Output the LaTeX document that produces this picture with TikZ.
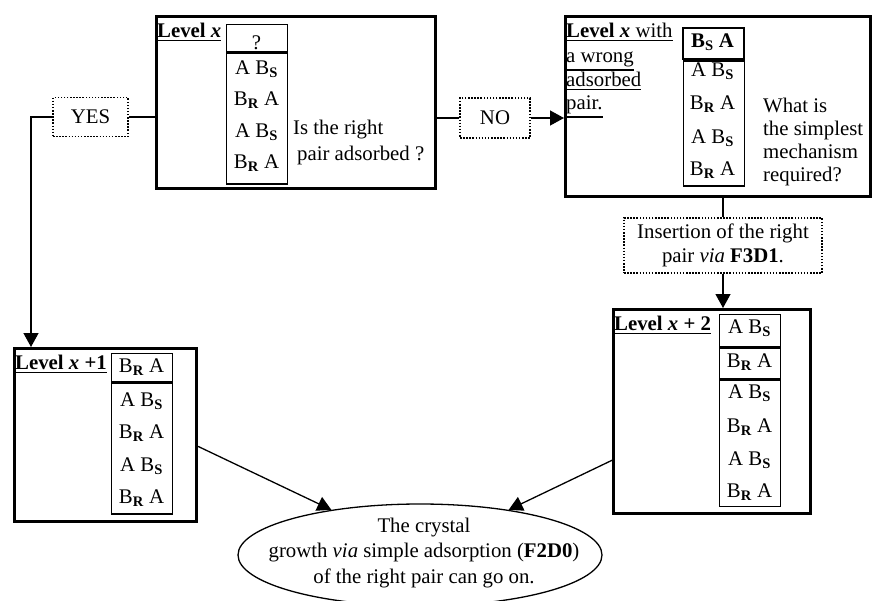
\documentclass[tikz,border=0pt]{standalone}
\usepackage{fontspec}
\setmainfont{Liberation Serif}
\usetikzlibrary{shapes.geometric,arrows.meta}

% adsorbed pairs
\newcommand\pairAB{A B\textsubscript{\textbf{S}}}
\newcommand\pairBA{B\textsubscript{\textbf{R}} A}
% heavier underline for the level captions
\newcommand\capline[1]{\leavevmode\vtop{\hbox{#1}\kern2.6pt\hrule height 1.5pt}}

\tikzset{
  frame/.style={draw, line width=3pt, inner sep=0pt, anchor=north west},
  cell/.style={draw, line width=1.3pt, inner sep=0pt, minimum width=61pt},
  cellhead/.style={cell, line width=2.3pt},
  pairtext/.style={anchor=base, inner sep=0pt},
  lefttext/.style={anchor=base west, inner sep=0pt},
  answer/.style={draw, dash pattern=on 1.5pt off 1.6pt, line width=1.6pt, inner sep=0pt},
  link/.style={line width=1.3pt},
  arrow/.style={link, -{Triangle[length=14pt,width=15pt]}},
}

\begin{document}
\begin{tikzpicture}[x=1pt, y=-1pt, font=\fontsize{20.8}{24}\selectfont]
\useasboundingbox (0,0) rectangle (872,600);

% ---- Level x ----
\node[frame, minimum width=279pt, minimum height=172pt] (lvx) at (155,15) {};
\node[lefttext] (lvxlabel) at (157,37) {\capline{\textbf{Level \textit{x}}}};
\node[cell, minimum height=27pt, anchor=north west] (lvxtop) at (226,24) {};
\node[cell, minimum height=131pt, anchor=north] (lvxbody) at (lvxtop.south) {};
\node[pairtext] (lvxq) at (256.5,49) {?};
\node[pairtext] (lvxr1) at (256.5,74) {\pairAB};
\node[pairtext] (lvxr2) at (256.5,105.5) {\pairBA};
\node[pairtext] (lvxr3) at (256.5,137) {\pairAB};
\node[pairtext] (lvxr4) at (256.5,168) {\pairBA};
\node[lefttext] (askA) at (293,134) {Is the right};
\node[lefttext] (askB) at (297,160) {pair adsorbed ?};

% ---- Level x with a wrong pair ----
\node[frame, minimum width=305pt, minimum height=180pt] (wrong) at (564,15) {};
\node[lefttext] (wrongA) at (566,37) {\capline{\textbf{Level \textit{x}} with}};
\node[lefttext] (wrongB) at (566,62) {\capline{a wrong}};
\node[lefttext] (wrongC) at (566,86) {\capline{adsorbed}};
\node[lefttext] (wrongD) at (566,109) {\capline{pair.}};
\node[cellhead, minimum height=31pt, anchor=north west] (wrongtop) at (682,27) {};
\node[cell, minimum height=125pt, anchor=north] (wrongbody) at (wrongtop.south) {};
\node[pairtext] (wrongr0) at (712.5,47) {\textbf{B\textsubscript{S} A}};
\node[pairtext] (wrongr1) at (712.5,76) {\pairAB};
\node[pairtext] (wrongr2) at (712.5,109) {\pairBA};
\node[pairtext] (wrongr3) at (712.5,143) {\pairAB};
\node[pairtext] (wrongr4) at (712.5,175) {\pairBA};
\node[lefttext] (whatA) at (763,112) {What is};
\node[lefttext] (whatB) at (763,135) {the simplest};
\node[lefttext] (whatC) at (763,158) {mechanism};
\node[lefttext] (whatD) at (763,181) {required?};

% ---- Level x+1 ----
\node[frame, minimum width=182pt, minimum height=173pt] (lv1) at (13,347) {};
\node[lefttext] (lv1label) at (15,369) {\capline{\textbf{Level \textit{x} +1}}};
\node[cell, minimum height=28pt, anchor=north west] (lv1top) at (111,353) {};
\node[cell, minimum height=131pt, anchor=north] (lv1body) at (lv1top.south) {};
\node[pairtext] (lv1r0) at (141.5,372) {\pairBA};
\node[pairtext] (lv1r1) at (141.5,406) {\pairAB};
\node[pairtext] (lv1r2) at (141.5,438) {\pairBA};
\node[pairtext] (lv1r3) at (141.5,471) {\pairAB};
\node[pairtext] (lv1r4) at (141.5,503) {\pairBA};

% ---- Level x+2 ----
\node[frame, minimum width=197pt, minimum height=204pt] (lv2) at (612,308) {};
\node[lefttext] (lv2label) at (614,330) {\capline{\textbf{Level \textit{x} + 2}}};
\node[cell, minimum height=32pt, anchor=north west] (lv2c1) at (719,314) {};
\node[cell, minimum height=31pt, anchor=north] (lv2c2) at (lv2c1.south) {};
\node[cell, minimum height=126pt, anchor=north] (lv2c3) at (lv2c2.south) {};
\node[pairtext] (lv2r1) at (749.5,333) {\pairAB};
\node[pairtext] (lv2r2) at (749.5,367) {\pairBA};
\node[pairtext] (lv2r3) at (749.5,398) {\pairAB};
\node[pairtext] (lv2r4) at (749.5,432) {\pairBA};
\node[pairtext] (lv2r5) at (749.5,465) {\pairAB};
\node[pairtext] (lv2r6) at (749.5,497) {\pairBA};

% ---- answers and action ----
\node[answer, minimum width=75pt, minimum height=39pt] (yes) at (90.5,117) {YES};
\node[answer, minimum width=70pt, minimum height=40pt] (no) at (495,118) {NO};
\node[answer, minimum width=198pt, minimum height=55pt, align=center] (ins) at (723,245.5)
  {Insertion of the right\\pair \textit{via} \textbf{F3D1}.};

% ---- outcome ----
\node[draw, ellipse, line width=1.3pt, minimum width=364pt, minimum height=102pt, inner sep=0pt] (ell) at (420,555) {};
\node[align=center, inner sep=0pt, font=\fontsize{20.8}{25.5}\selectfont] (elltext) at (424,553)
  {The crystal\\growth \textit{via} simple adsorption (\textbf{F2D0})\\of the right pair can go on.};

% ---- connectors ----
\coordinate (yesdrop) at (31,0);
\draw[link] (yes.east) -- (yes.east -| lvx.west);
\draw[link] (lvx.east |- no.west) -- (no.west);
\draw[arrow] (no.east) -- (no.east -| wrong.west);
\draw[arrow] (yes.west) -| (yesdrop |- lv1.north);
\draw[link] (wrong.south -| ins.north) -- (ins.north);
\draw[arrow] (ins.south) -- (ins.south |- lv2.north);
\draw[arrow] (lv1.-7) -- (ell.153);
\draw[arrow] (lv2.206) -- (ell.27);
\end{tikzpicture}
\end{document}
